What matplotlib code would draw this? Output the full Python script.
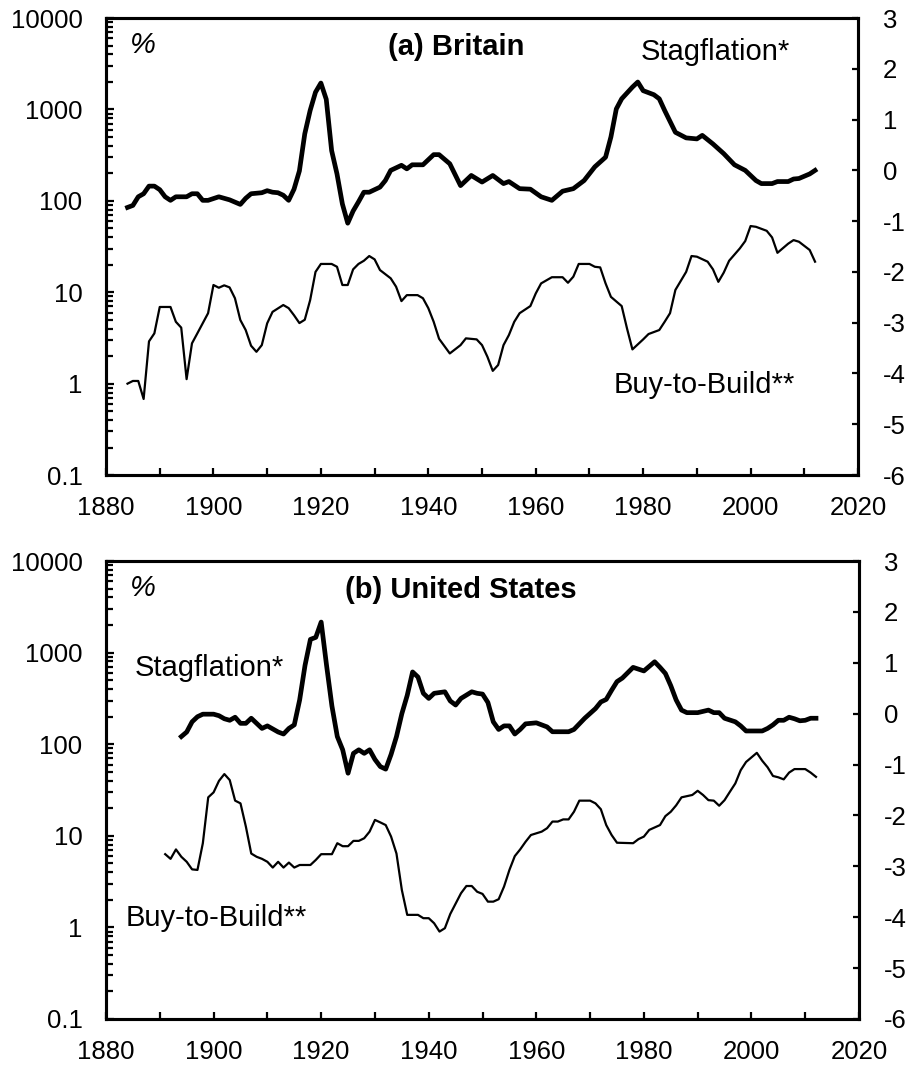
import matplotlib
matplotlib.use('Agg')
import matplotlib.pyplot as plt
from matplotlib.ticker import LogLocator, MultipleLocator, NullFormatter

plt.rcParams['font.family'] = ['Liberation Sans', 'DejaVu Sans']
plt.rcParams['font.size'] = 18.5

# (a) Britain
uk_stag_yr = [1884, 1885, 1886, 1887, 1888, 1889, 1890, 1891, 1892, 1893, 1895, 1896, 1897,
              1898, 1899, 1901, 1902, 1903, 1905, 1906, 1907, 1909, 1910, 1911, 1912, 1913,
              1914, 1915, 1916, 1917, 1918, 1919, 1920, 1921, 1922, 1923, 1924, 1925, 1926,
              1927, 1928, 1929, 1931, 1932, 1933, 1935, 1936, 1937, 1939, 1940, 1941, 1942,
              1944, 1946, 1948, 1950, 1952, 1954, 1955, 1957, 1959, 1961, 1963, 1965, 1967,
              1969, 1971, 1973, 1974, 1975, 1976, 1978, 1979, 1980, 1982, 1983, 1984, 1986,
              1988, 1990, 1991, 1993, 1995, 1997, 1999, 2001, 2002, 2004, 2005, 2007, 2008,
              2009, 2011, 2012]
uk_stag = [-0.73, -0.69, -0.52, -0.46, -0.31, -0.31, -0.38, -0.52, -0.59, -0.52, -0.52, -0.46,
           -0.46, -0.59, -0.59, -0.52, -0.55, -0.58, -0.67, -0.55, -0.46, -0.44, -0.40, -0.43,
           -0.44, -0.49, -0.59, -0.37, -0.01, 0.72, 1.18, 1.54, 1.72, 1.40, 0.39, -0.07, -0.66,
           -1.04, -0.80, -0.62, -0.43, -0.43, -0.33, -0.20, 0.0, 0.10, 0.03, 0.11, 0.11, 0.21,
           0.31, 0.31, 0.13, -0.30, -0.10, -0.23, -0.10, -0.26, -0.22, -0.36, -0.37, -0.52,
           -0.59, -0.41, -0.36, -0.20, 0.07, 0.26, 0.66, 1.21, 1.41, 1.64, 1.74, 1.57, 1.49,
           1.41, 1.18, 0.75, 0.64, 0.62, 0.69, 0.52, 0.33, 0.11, 0.0, -0.20, -0.26, -0.26,
           -0.22, -0.22, -0.17, -0.16, -0.07, 0.0]

uk_btb_yr = [1884, 1885, 1886, 1887, 1888, 1889, 1890, 1892, 1893, 1894, 1895, 1896, 1897,
             1899, 1900, 1901, 1902, 1903, 1904, 1905, 1906, 1907, 1908, 1909, 1910, 1911,
             1913, 1914, 1915, 1916, 1917, 1918, 1919, 1920, 1922, 1923, 1924, 1925, 1926,
             1927, 1928, 1929, 1930, 1931, 1933, 1934, 1935, 1936, 1938, 1939, 1940, 1941,
             1942, 1944, 1946, 1947, 1949, 1950, 1951, 1952, 1953, 1954, 1955, 1956, 1957,
             1959, 1960, 1961, 1963, 1965, 1966, 1967, 1968, 1970, 1971, 1972, 1973, 1974,
             1976, 1977, 1978, 1980, 1981, 1983, 1984, 1985, 1986, 1988, 1989, 1990, 1992,
             1993, 1994, 1995, 1996, 1998, 1999, 2000, 2001, 2003, 2004, 2005, 2007, 2008,
             2009, 2011, 2012]
uk_btb = [1.0, 1.07, 1.07, 0.68, 2.9, 3.55, 6.9, 6.9, 4.75, 4.1, 1.12, 2.76, 3.55, 5.9, 12.0,
          11.2, 11.9, 11.3, 8.6, 4.97, 3.86, 2.6, 2.23, 2.64, 4.57, 6.1, 7.25, 6.7, 5.6, 4.6,
          5.0, 8.2, 16.7, 20.4, 20.4, 19.0, 12.0, 12.0, 17.8, 20.4, 22.1, 24.9, 22.9, 17.5,
          14.2, 11.5, 8.0, 9.3, 9.3, 8.6, 6.7, 4.75, 3.1, 2.14, 2.64, 3.13, 3.05, 2.64, 1.97,
          1.38, 1.6, 2.64, 3.4, 4.75, 5.9, 7.06, 9.7, 12.5, 14.6, 14.6, 12.7, 14.8, 20.4, 20.4,
          19.0, 18.7, 12.5, 8.9, 7.06, 4.0, 2.37, 3.05, 3.49, 3.86, 4.75, 5.9, 10.6, 16.7, 24.9,
          24.5, 21.6, 17.8, 13.0, 16.4, 22.1, 30.2, 36.3, 53.0, 52.0, 47.0, 39.8, 27.0, 34.0,
          37.2, 35.7, 29.0, 21.6]

# (b) United States
us_stag_yr = [1894, 1895, 1896, 1897, 1898, 1900, 1901, 1902, 1903, 1904, 1905, 1906, 1907,
              1908, 1909, 1910, 1911, 1912, 1913, 1914, 1915, 1916, 1917, 1918, 1919, 1920,
              1921, 1922, 1923, 1924, 1925, 1926, 1927, 1928, 1929, 1930, 1931, 1932, 1933,
              1934, 1935, 1936, 1937, 1938, 1939, 1940, 1941, 1943, 1944, 1945, 1946, 1948,
              1949, 1950, 1951, 1952, 1953, 1954, 1955, 1956, 1957, 1958, 1960, 1962, 1963,
              1966, 1967, 1969, 1971, 1972, 1973, 1974, 1975, 1976, 1978, 1980, 1981, 1982,
              1983, 1984, 1985, 1986, 1987, 1988, 1990, 1992, 1993, 1994, 1995, 1997, 1998,
              1999, 2002, 2003, 2004, 2005, 2006, 2007, 2008, 2009, 2010, 2011, 2012]
us_stag = [-0.45, -0.36, -0.16, -0.06, -0.01, -0.01, -0.04, -0.10, -0.13, -0.07, -0.19, -0.19,
           -0.09, -0.19, -0.29, -0.24, -0.30, -0.36, -0.40, -0.29, -0.22, 0.27, 0.95, 1.46,
           1.50, 1.80, 0.95, 0.15, -0.45, -0.71, -1.17, -0.78, -0.71, -0.78, -0.71, -0.90,
           -1.04, -1.09, -0.80, -0.45, 0.0, 0.36, 0.82, 0.72, 0.40, 0.30, 0.40, 0.43, 0.25,
           0.17, 0.30, 0.43, 0.40, 0.385, 0.22, -0.16, -0.31, -0.24, -0.24, -0.40, -0.31,
           -0.20, -0.18, -0.26, -0.355, -0.355, -0.31, -0.09, 0.10, 0.23, 0.28, 0.46, 0.63,
           0.70, 0.91, 0.84, 0.93, 1.02, 0.91, 0.79, 0.55, 0.27, 0.07, 0.02, 0.02, 0.07, 0.02,
           0.02, -0.09, -0.16, -0.24, -0.34, -0.34, -0.29, -0.22, -0.13, -0.13, -0.07, -0.10,
           -0.14, -0.13, -0.09, -0.09]

us_btb_yr = [1891, 1892, 1893, 1894, 1895, 1896, 1897, 1898, 1899, 1900, 1901, 1902, 1903,
             1904, 1905, 1906, 1907, 1908, 1909, 1910, 1911, 1912, 1913, 1914, 1915, 1916,
             1918, 1919, 1920, 1922, 1923, 1924, 1925, 1926, 1927, 1928, 1929, 1930, 1931,
             1932, 1933, 1934, 1935, 1936, 1938, 1939, 1940, 1941, 1942, 1943, 1944, 1946,
             1947, 1948, 1949, 1950, 1951, 1952, 1953, 1954, 1955, 1956, 1957, 1958, 1959,
             1961, 1962, 1963, 1964, 1965, 1966, 1967, 1968, 1970, 1971, 1972, 1973, 1974,
             1975, 1978, 1979, 1980, 1981, 1983, 1984, 1985, 1986, 1987, 1989, 1990, 1991,
             1992, 1993, 1994, 1995, 1996, 1997, 1998, 1999, 2001, 2002, 2003, 2004, 2005,
             2006, 2007, 2008, 2010, 2011, 2012]
us_btb = [6.3, 5.6, 7.1, 5.9, 5.2, 4.3, 4.24, 8.3, 26.3, 29.8, 39.8, 47.2, 40.6, 24.2, 22.6,
          12.6, 6.4, 5.9, 5.6, 5.2, 4.5, 5.2, 4.5, 5.1, 4.5, 4.8, 4.8, 5.45, 6.3, 6.3, 8.3, 7.7,
          7.7, 8.8, 8.8, 9.4, 11.1, 14.9, 14.0, 13.1, 9.8, 6.4, 2.56, 1.37, 1.37, 1.26, 1.26,
          1.11, 0.90, 0.98, 1.40, 2.36, 2.83, 2.83, 2.45, 2.32, 1.91, 1.91, 2.03, 2.79, 4.24,
          6.0, 7.1, 8.6, 10.2, 11.1, 12.1, 14.3, 14.3, 15.1, 15.1, 18.3, 24.2, 24.2, 22.6,
          19.5, 13.1, 10.2, 8.4, 8.3, 9.2, 9.8, 11.6, 13.1, 16.4, 18.3, 21.5, 26.3, 27.9, 31.0,
          27.9, 24.5, 24.2, 21.3, 24.5, 30.3, 37.3, 52.0, 64.0, 80.5, 66.0, 56.0, 45.0, 43.5,
          41.3, 49.0, 53.5, 53.5, 49.0, 44.0]

left_ticks = [0.1, 1, 10, 100, 1000, 10000]
left_labels = ['0.1', '1', '10', '100', '1000', '10000']
right_ticks = [-6, -5, -4, -3, -2, -1, 0, 1, 2, 3]

fig = plt.figure(figsize=(9.07, 10.68), dpi=100)


def panel(rect, title, title_x, stag_yr, stag, btb_yr, btb, stag_pos, btb_pos):
    ax = fig.add_axes(rect)
    ax.plot(btb_yr, btb, color='black', lw=1.6)
    ax.set_yscale('log')
    ax.set_ylim(0.1, 10000)
    ax.set_xlim(1880, 2020)
    ax.set_yticks(left_ticks)
    ax.set_yticklabels(left_labels)
    ax.yaxis.set_minor_locator(LogLocator(base=10, subs=range(2, 10)))
    ax.yaxis.set_minor_formatter(NullFormatter())
    ax.xaxis.set_major_locator(MultipleLocator(20))
    ax.xaxis.set_minor_locator(MultipleLocator(10))
    ax.tick_params(axis='both', which='both', direction='in', width=1.6, colors='black',
                   labelsize=18.5)
    ax.tick_params(axis='y', which='major', length=6, pad=17)
    ax.tick_params(axis='y', which='minor', length=5)
    ax.tick_params(axis='x', which='both', length=5, pad=15)

    ax2 = ax.twinx()
    ax2.plot(stag_yr, stag, color='black', lw=3.4, solid_joinstyle='round')
    ax2.set_ylim(-6, 3)
    ax2.set_yticks(right_ticks)
    ax2.set_yticklabels([str(t) for t in right_ticks])
    ax2.tick_params(axis='y', direction='in', length=4, width=1.6, pad=18, labelsize=18.5)

    for a in (ax, ax2):
        for s in a.spines.values():
            s.set_linewidth(2.2)

    ax.text(0.032, 0.94, '%', transform=ax.transAxes, ha='left', va='center',
            style='italic', fontsize=21)
    ax.text(title_x, 0.937, title, transform=ax.transAxes, ha='center', va='center',
            fontweight='bold', fontsize=21)
    ax.text(stag_pos[0], stag_pos[1], 'Stagflation*', transform=ax.transAxes,
            ha='center', va='center', fontsize=21)
    ax.text(btb_pos[0], btb_pos[1], 'Buy-to-Build**', transform=ax.transAxes,
            ha='center', va='center', fontsize=21)


panel([0.1169, 0.5552, 0.8291, 0.4279], '(a) Britain', 0.465,
      uk_stag_yr, uk_stag, uk_btb_yr, uk_btb, (0.81, 0.926), (0.795, 0.197))
panel([0.1169, 0.0459, 0.8302, 0.4288], '(b) United States', 0.471,
      us_stag_yr, us_stag, us_btb_yr, us_btb, (0.137, 0.766), (0.147, 0.22))

fig.savefig('out.png', dpi=100)
